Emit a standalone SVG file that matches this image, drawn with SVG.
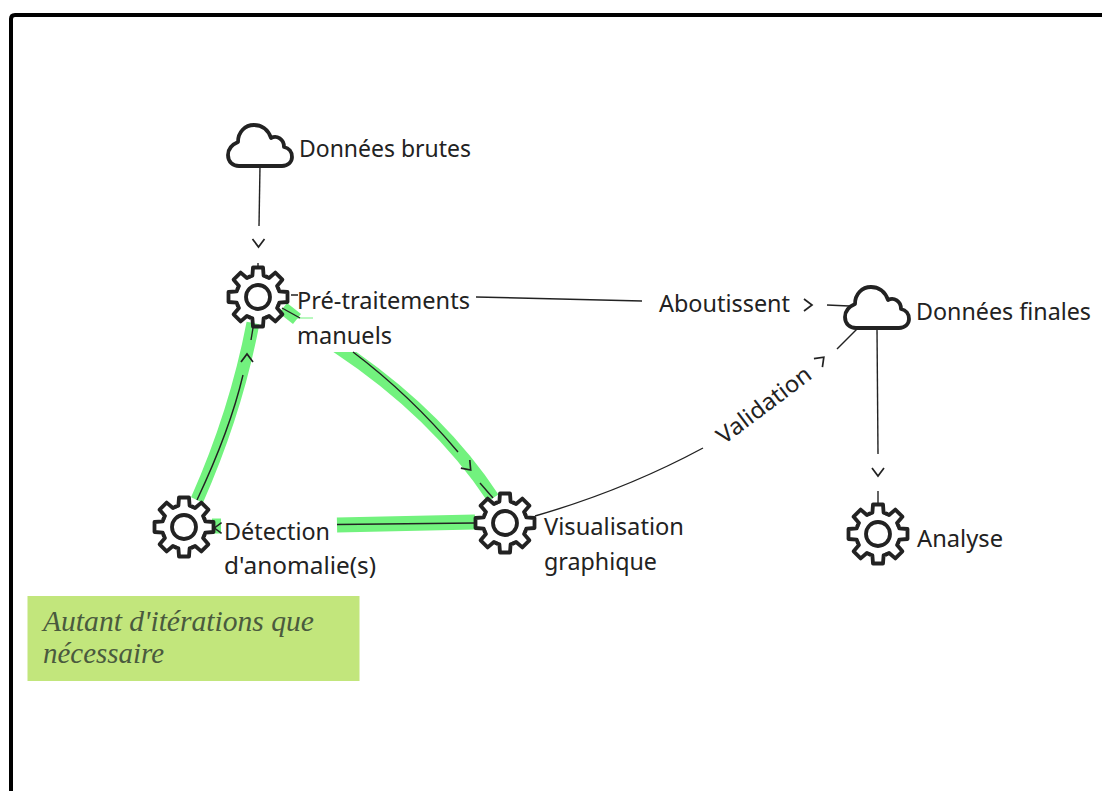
<svg xmlns="http://www.w3.org/2000/svg" width="1102" height="791" viewBox="0 0 1102 791">
<style>
.t{font-family:"Noto Sans","Open Sans",sans-serif;font-size:23px;fill:#222}
.i{fill:none;stroke:#222;stroke-width:3.8;stroke-linejoin:round;stroke-linecap:round}
.c{fill:none;stroke:#222;stroke-width:1.4}
.h{fill:none;stroke:#222;stroke-width:1.7}
.g{fill:none;stroke:#72f27e;stroke-width:13}
.n{font-family:"Liberation Serif",serif;font-style:italic;font-size:30px;fill:#4a5a3e}
</style>
<defs>
<path id="s" class="i" d="M-8.42,-20.33L-5.6,-21.3L-5,-29.5L5,-29.5L5.6,-21.3L8.42,-20.33"/>
<g id="gear">
<use href="#s"/><use href="#s" transform="rotate(45)"/><use href="#s" transform="rotate(90)"/><use href="#s" transform="rotate(135)"/><use href="#s" transform="rotate(180)"/><use href="#s" transform="rotate(225)"/><use href="#s" transform="rotate(270)"/><use href="#s" transform="rotate(315)"/>
<circle class="i" r="12"/>
</g>
<path id="cloud" class="i" d="M12,42H55C61,42 65,38 65,33C65,28 62,24 57,23C57,15 50,11 44,14C41,5 34,1 27,1C18,1 11,8 11,18C4,21 1,26 1,31C1,38 6,42 12,42Z"/>
<path id="chev" class="h" d="M-6,-4L0,4L6,-4"/>
<clipPath id="below"><rect x="300" y="352" width="220" height="160"/></clipPath>
</defs>
<rect width="1102" height="791" fill="#fff"/>
<path d="M11,791V19Q11,15 15,15H1102" fill="none" stroke="#000" stroke-width="4"/>
<g id="connectors">
<path class="g" d="M197,500Q236,412 253,323"/>
<path class="g" clip-path="url(#below)" d="M330,342Q435,410 493,498"/>
<path class="g" style="stroke-width:15" d="M337,525L475,522"/>
<path class="g" d="M283,308L297,319"/>
<path class="g" style="stroke-width:1" d="M297,318H313"/>
<path class="g" style="stroke-width:15" d="M212,526H221"/>
<path class="c" d="M197,500Q230,430 243,375"/>
<path class="c" d="M251,340L253,328"/>
<use href="#chev" transform="translate(247,358) rotate(180)"/>
<path class="c" d="M353,352Q410,395 458,452"/>
<use href="#chev" transform="translate(468,467) rotate(-42)"/>
<path class="c" d="M480,483L493,498"/>
<path class="c" d="M337,524.500L475,523"/>
<path class="c" d="M282,308L300,318"/>
<use href="#chev" transform="translate(218,528) rotate(90) scale(.9)"/>
<path class="c" d="M260,166L259,226"/>
<use href="#chev" transform="translate(258.500,243)"/>
<path class="c" d="M258,263V268M291,295H298"/>
<path class="c" d="M476,297L642,301"/>
<use href="#chev" transform="translate(808,305) rotate(-90)"/>
<path class="c" d="M827,305L849,306"/>
<path class="c" d="M535,516Q625,490 703,448"/>
<use href="#chev" transform="translate(821,360) rotate(-135)"/>
<path class="c" d="M837,349L857,329"/>
<path class="c" d="M877,329L878,454"/>
<use href="#chev" transform="translate(878,472)"/>
<path class="c" d="M878,491V503"/>
</g>
<g id="n-brutes"><use href="#cloud" x="227" y="124"/><text class="t" x="299" y="157" textLength="172" lengthAdjust="spacingAndGlyphs">Données brutes</text></g>
<g id="n-pre"><use href="#gear" x="258" y="297"/><text class="t" x="297" y="309" textLength="173" lengthAdjust="spacingAndGlyphs">Pré-traitements</text><text class="t" x="297" y="344" textLength="95" lengthAdjust="spacingAndGlyphs">manuels</text></g>
<g id="n-det"><use href="#gear" x="184" y="527"/><text class="t" x="224" y="540" textLength="106" lengthAdjust="spacingAndGlyphs">Détection</text><text class="t" x="224" y="574" textLength="152" lengthAdjust="spacingAndGlyphs">d'anomalie(s)</text></g>
<g id="n-vis"><use href="#gear" x="505" y="523"/><text class="t" x="544" y="535" textLength="140" lengthAdjust="spacingAndGlyphs">Visualisation</text><text class="t" x="544" y="570" textLength="113" lengthAdjust="spacingAndGlyphs">graphique</text></g>
<g id="n-fin"><use href="#cloud" x="844" y="286"/><text class="t" x="916" y="320" textLength="175" lengthAdjust="spacingAndGlyphs">Données finales</text></g>
<g id="n-ana"><use href="#gear" x="878" y="534"/><text class="t" x="917" y="547" textLength="86" lengthAdjust="spacingAndGlyphs">Analyse</text></g>
<text class="t" x="659" y="312" textLength="131" lengthAdjust="spacingAndGlyphs">Aboutissent</text>
<text class="t" transform="translate(724,445) rotate(-37)" textLength="112" lengthAdjust="spacingAndGlyphs">Validation</text>
<g id="note"><rect x="27.500" y="596" width="332" height="85" fill="#c2e67c"/>
<text class="n" x="43" y="631" textLength="271" lengthAdjust="spacingAndGlyphs">Autant d'itérations que</text><text class="n" x="43" y="663" textLength="121" lengthAdjust="spacingAndGlyphs">nécessaire</text></g>
</svg>
